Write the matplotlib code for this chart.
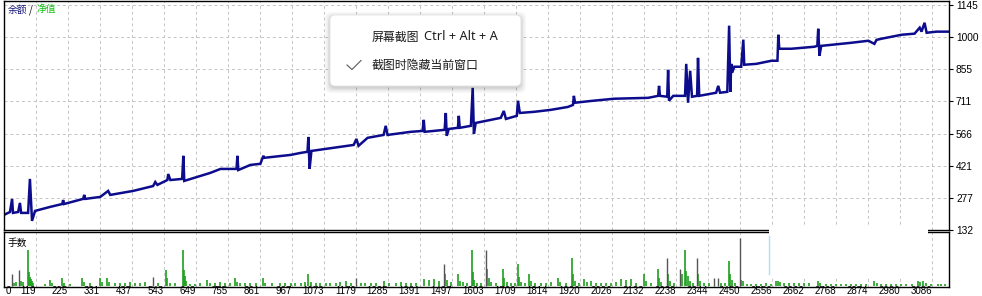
import numpy as np
import matplotlib
matplotlib.use("Agg")
import matplotlib.pyplot as plt
from matplotlib.patches import Rectangle, FancyBboxPatch
from matplotlib.transforms import blended_transform_factory

plt.rcParams['font.family'] = ['Liberation Sans', 'DejaVu Sans']
cjk = ['Noto Sans CJK SC', 'DejaVu Sans']

# balance curve (trade number, balance)
trade_no = [13, 33, 40, 43, 60, 66, 70, 93, 99, 106,
            116, 166, 206, 209, 212, 275, 279, 282, 332, 358,
            365, 441, 507, 514, 521, 554, 557, 564, 603, 607,
            610, 663, 696, 730, 783, 786, 789, 829, 862, 872,
            875, 962, 995, 1018, 1021, 1025, 1031, 1104, 1171, 1180,
            1187, 1217, 1270, 1277, 1283, 1360, 1399, 1403, 1406, 1436,
            1472, 1476, 1479, 1486, 1516, 1519, 1522, 1559, 1565, 1569,
            1575, 1625, 1658, 1668, 1675, 1711, 1715, 1721, 1768, 1824,
            1880, 1897, 1900, 1904, 1957, 2033, 2146, 2179, 2182, 2185,
            2209, 2212, 2215, 2229, 2268, 2272, 2278, 2285, 2291, 2308,
            2311, 2315, 2371, 2378, 2384, 2408, 2414, 2418, 2421, 2424,
            2431, 2454, 2461, 2464, 2504, 2554, 2574, 2577, 2580, 2620,
            2696, 2706, 2709, 2713, 2719, 2819, 2875, 2895, 2902, 2918,
            2985, 3028, 3045, 3051, 3061, 3068, 3101, 3141]
balance = [200, 213, 272, 209, 213, 254, 209, 209, 362, 173,
           218, 236, 249, 267, 249, 272, 290, 272, 281, 308,
           290, 308, 330, 348, 335, 357, 384, 357, 362, 466,
           353, 375, 389, 407, 407, 466, 402, 425, 430, 466,
           457, 470, 479, 484, 551, 407, 488, 502, 515, 542,
           511, 547, 560, 601, 560, 574, 578, 628, 574, 578,
           583, 659, 556, 587, 592, 646, 592, 601, 772, 565,
           614, 628, 637, 668, 632, 646, 714, 659, 664, 673,
           686, 695, 736, 705, 713, 723, 727, 736, 781, 736,
           732, 853, 714, 736, 736, 880, 705, 849, 732, 736,
           907, 736, 750, 781, 750, 754, 1052, 754, 880, 840,
           867, 867, 989, 876, 880, 894, 894, 1011, 948, 948,
           957, 961, 1038, 916, 961, 975, 984, 970, 988, 993,
           1011, 1016, 1043, 1025, 1065, 1020, 1025, 1025]

# lots per trade
gray_trade = [40, 63, 507, 1177, 1469, 1608, 2208, 2252, 2308, 2364, 2378, 2451]
gray_lots = [0.12, 0.16, 0.09, 0.08, 0.22, 0.36, 0.28, 0.17, 0.28, 0.08, 0.08, 0.48]
green_trade = [46, 53, 70, 76, 93, 96, 99, 103, 106, 109, 149, 166, 172, 206, 212, 232,
               272, 279, 298, 332, 338, 355, 361, 381, 398, 415, 431, 448, 464, 481, 524,
               550, 554, 564, 580, 607, 610, 613, 617, 630, 647, 663, 686, 696, 713, 730,
               746, 763, 779, 786, 796, 812, 829, 846, 872, 879, 902, 928, 945, 962, 978,
               995, 1011, 1021, 1028, 1045, 1061, 1078, 1094, 1111, 1127, 1144, 1161, 1194,
               1210, 1227, 1244, 1270, 1287, 1310, 1326, 1343, 1360, 1376, 1403, 1419, 1436,
               1452, 1472, 1479, 1492, 1515, 1522, 1532, 1545, 1562, 1565, 1568, 1578, 1592,
               1612, 1618, 1625, 1641, 1665, 1668, 1678, 1691, 1704, 1714, 1718, 1724, 1738,
               1751, 1757, 1771, 1791, 1807, 1824, 1847, 1854, 1874, 1893, 1897, 1903, 1917,
               1933, 1943, 1956, 1973, 1990, 2006, 2023, 2039, 2056, 2073, 2089, 2106, 2132,
               2139, 2155, 2179, 2182, 2189, 2212, 2218, 2232, 2258, 2268, 2271, 2278, 2285,
               2295, 2311, 2318, 2331, 2348, 2388, 2401, 2414, 2417, 2424, 2434, 2454, 2461,
               2474, 2487, 2504, 2520, 2537, 2553, 2570, 2577, 2583, 2596, 2613, 2630, 2646,
               2663, 2679, 2709, 2716, 2736, 2752, 2769, 2785, 2802, 2819, 2835, 2852, 2868,
               2895, 2902, 2918, 2935, 2951, 2968, 2984, 3001, 3018, 3041, 3047, 3057, 3067,
               3084, 3107, 3117, 3130]
green_lots = [.03, .04, .05, .04, .36, .14, .09, .07, .05, .03, .02, .06, .03, .08, .03, .02,
              .08, .04, .03, .08, .04, .08, .04, .03, .03, .03, .04, .03, .03, .04, .03,
              .16, .08, .03, .03, .36, .16, .10, .05, .02, .02, .03, .06, .03, .03, .04,
              .03, .03, .08, .04, .03, .03, .03, .03, .08, .03, .03, .03, .03, .03, .03,
              .03, .04, .12, .04, .03, .03, .03, .03, .03, .04, .05, .03, .03,
              .03, .03, .03, .05, .03, .03, .04, .03, .03, .03, .07, .06, .07,
              .05, .12, .06, .04, .12, .05, .04, .03, .36, .14, .06, .03, .03,
              .17, .08, .04, .03, .17, .08, .04, .03, .03, .22, .09, .04, .03,
              .12, .05, .03, .03, .03, .04, .08, .04, .03, .28, .12, .05, .03,
              .07, .04, .05, .03, .03, .03, .03, .04, .07, .06, .07, .03, .12,
              .05, .03, .17, .08, .04, .12, .05, .03, .12, .36, .15, .10, .05,
              .03, .12, .05, .03, .03, .03, .03, .25, .12, .06, .03, .06, .05,
              .02, .02, .02, .02, .03, .02, .05, .05, .04, .03, .03, .03, .03,
              .03, .03, .05, .03, .02, .02, .02, .02, .02, .02, .02, .02, .02,
              .05, .03, .02, .02, .02, .02, .02, .02, .02, .05, .04, .05, .03,
              .02, .02, .02, .02]

x_ticks = [119, 225, 331, 437, 543, 649, 755, 861, 967, 1073, 1179, 1285, 1391, 1497,
           1603, 1709, 1814, 1920, 2026, 2132, 2238, 2344, 2450, 2556, 2662, 2768, 2874,
           2980, 3086]
y_ticks = [132, 277, 421, 566, 711, 855, 1000, 1145]

W, H = 982, 296
fig = plt.figure(figsize=(W / 100, H / 100), dpi=100)
fig.patch.set_facecolor('white')

x_lo, x_hi = 13.2, 3142
grid_kw = dict(color='#c4c4c4', lw=0.7, ls=(0, (3, 3)))

# main panel
ax = fig.add_axes([4 / W, (H - 230) / H, 945 / W, 229 / H])
ax.plot(trade_no, balance, color='#0c0c8c', lw=1.8, solid_joinstyle='miter')
ax.set_xlim(x_lo, x_hi)
ax.set_ylim(132, 1163)
ax.set_xticks(x_ticks)
ax.set_xticklabels([])
ax.tick_params(axis='x', length=0)
ax.yaxis.tick_right()
ax.set_yticks(y_ticks)
ax.set_yticklabels([str(v) for v in y_ticks])
ax.tick_params(axis='y', direction='out', length=3, width=0.8, pad=2, labelsize=7.3)
ax.grid(True, **grid_kw)
for s in ax.spines.values():
    s.set_linewidth(1.0)
    s.set_color('black')

ax.text(0.004, 0.985, '余额', transform=ax.transAxes, fontsize=7, color='#1a1a7a',
        va='top', ha='left', family=cjk)
ax.text(0.026, 0.985, '/', transform=ax.transAxes, fontsize=7, color='black',
        va='top', ha='left', family=cjk)
ax.text(0.034, 0.985, '净值', transform=ax.transAxes, fontsize=7, color='#10c010',
        va='top', ha='left', family=cjk)

# lots panel
ax2 = fig.add_axes([4 / W, (H - 287) / H, 945 / W, 55 / H])
ax2.vlines(green_trade, 0, green_lots, color='#1ea01e', lw=1.2)
ax2.vlines(gray_trade, 0, gray_lots, color='#555555', lw=1.0)
ax2.set_xlim(x_lo, x_hi)
ax2.set_ylim(-0.01, 0.54)
ax2.set_xticks(x_ticks)
ax2.set_xticklabels([])
ax2.set_yticks([])
ax2.tick_params(axis='x', length=0)
ax2.grid(True, axis='x', **grid_kw)
for s in ax2.spines.values():
    s.set_linewidth(1.0)
    s.set_color('black')
ax2.text(0.004, 0.9, '手数', transform=ax2.transAxes, fontsize=7, color='black',
         va='top', ha='left', family=cjk)

# x labels (right-aligned at their grid line, as in the terminal)
tr = blended_transform_factory(ax2.transData, fig.transFigure)
lab_y = 1.6 / H
ax2.text(x_lo + 4, lab_y, '0', transform=tr, ha='left', va='baseline', fontsize=7)
for t in x_ticks:
    ax2.text(t, lab_y, str(t), transform=tr, ha='right', va='baseline', fontsize=7)

# overlay in pixel coordinates (screenshot artefacts)
ov = fig.add_axes([0, 0, 1, 1])
ov.set_xlim(0, W)
ov.set_ylim(H, 0)
ov.axis('off')
ov.patch.set_visible(False)
ov.set_zorder(10)

# blank patch over the lots panel
ov.add_patch(Rectangle((769, 225), 159, 53, facecolor='white', edgecolor='none'))
ov.plot([769, 769], [236, 274], color='#8fdcf5', lw=1.0, alpha=0.8)

# context menu popup with shadow
for i, a in enumerate([0.03, 0.04, 0.05, 0.06]):
    g = 6 - i * 1.5
    ov.add_patch(FancyBboxPatch((330 - g + 1, 15 - g + 3), 191 + 2 * g - 2, 71 + 2 * g - 2,
                                boxstyle='round,pad=0,rounding_size=6',
                                facecolor='black', edgecolor='none', alpha=a))
ov.add_patch(FancyBboxPatch((330, 15), 191, 71, boxstyle='round,pad=0,rounding_size=5',
                            facecolor='white', edgecolor='#e2e2e2', lw=0.6))
ov.text(372, 37, '屏幕截图', fontsize=8.6, color='#1b1b1b',
        va='center', ha='left', family=cjk)
ov.text(424, 37, 'Ctrl + Alt + A', fontsize=9.2, color='#1b1b1b',
        va='center', ha='left', family=['Noto Sans', 'DejaVu Sans'])
ov.text(372, 65, '截图时隐藏当前窗口', fontsize=8.6, color='#1b1b1b',
        va='center', ha='left', family=cjk)
ov.plot([347, 352, 361], [65, 69.5, 60.5], color='#5a5a5a', lw=0.8)

fig.savefig('out.png', dpi=100)
